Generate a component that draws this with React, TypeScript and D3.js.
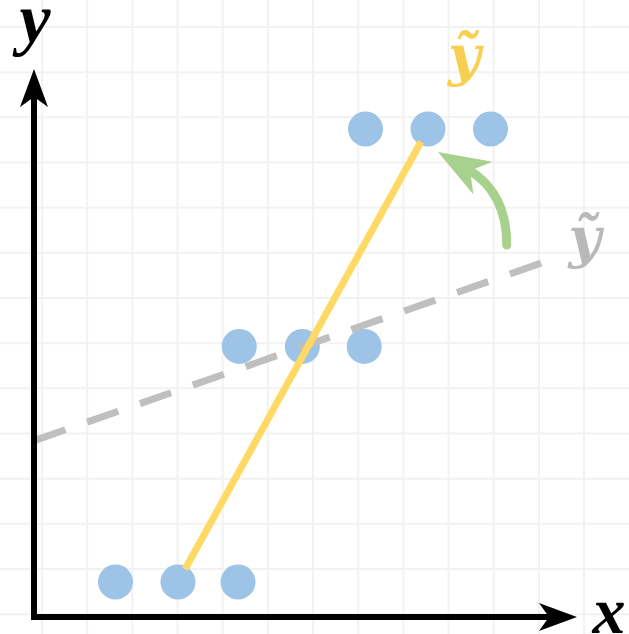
import React from "react";
import * as d3 from "d3";

// Observations: three rows of three points each
const pointX = [1, 2, 2.96, 2.98, 3.99, 4.98, 5, 6, 7];
const pointY = [0, 0, 0, 5.2, 5.2, 5.2, 10, 10, 10];

// Steep line through the centres of the row groups
const steepX = [2, 6];
const steepY = [0, 10];

// Shallow (dashed) fit
const shallowX = [-0.3, 7.87];
const shallowY = [3.12, 7.07];

// Curved arrow: start, control, tip
const arcX = [7.26, 7.26, 6.16];
const arcY = [7.44, 8.61, 9.49];

// Label anchors
const steepLabel = { x: 6.58, y: 11.19, text: "ỹ" };
const shallowLabel = { x: 8.51, y: 7.17, text: "ỹ" };

const W = 629;
const H = 634;
const R = 17.5;

const BLUE = "#9dc3e6";
const YELLOW = "#ffd966";
const GRAY = "#bfbfbf";
const GREEN = "#a9d18e";

export default function App() {
  const x = d3.scaleLinear().domain([0, 8]).range([53, 553]);
  const y = d3.scaleLinear().domain([0, 10]).range([582, 129]);

  // background grid
  const gx = d3.scaleLinear().domain([0, 1]).range([42, 87.17]);
  const gy = d3.scaleLinear().domain([0, 1]).range([27, 72.17]);
  const vLines = d3.range(-1, 14).map((k) => gx(k)).filter((v) => v > 0 && v < W);
  const hLines = d3.range(-1, 14).map((k) => gy(k)).filter((v) => v > 0 && v < H);

  // axes frame
  const ox = 34;
  const oy = 617;
  const yTip = 69;
  const xTip = 577;
  const headLen = 38;
  const headHalf = 14;
  const notch = 28;

  // steep segment trimmed to the circle edges
  const sx0 = x(steepX[0]), sy0 = y(steepY[0]);
  const sx1 = x(steepX[1]), sy1 = y(steepY[1]);
  const sl = Math.hypot(sx1 - sx0, sy1 - sy0);
  const ux = (sx1 - sx0) / sl, uy = (sy1 - sy0) / sl;
  const steepPath = d3.line()([
    [sx0 + ux * (R - 3), sy0 + uy * (R - 3)],
    [sx1 - ux * (R - 3), sy1 - uy * (R - 3)],
  ]);

  const shallowPath = d3.line()(shallowX.map((v, i) => [x(v), y(shallowY[i])] as [number, number]));

  // curved arrow
  const p0: [number, number] = [x(arcX[0]), y(arcY[0])];
  const pc: [number, number] = [x(arcX[1]), y(arcY[1])];
  const tip: [number, number] = [x(arcX[2]), y(arcY[2])];
  const dl = Math.hypot(tip[0] - pc[0], tip[1] - pc[1]);
  const dx = (tip[0] - pc[0]) / dl, dy = (tip[1] - pc[1]) / dl;
  const nx = -dy, ny = dx;
  const aLen = 52, aHalf = 19, aNotch = 37;
  const shaftEnd: [number, number] = [tip[0] - dx * (aNotch - 3), tip[1] - dy * (aNotch - 3)];
  const arc = d3.path();
  arc.moveTo(p0[0], p0[1]);
  arc.quadraticCurveTo(pc[0], pc[1], shaftEnd[0], shaftEnd[1]);
  const head = [
    [tip[0], tip[1]],
    [tip[0] - dx * aLen + nx * aHalf, tip[1] - dy * aLen + ny * aHalf],
    [tip[0] - dx * aNotch, tip[1] - dy * aNotch],
    [tip[0] - dx * aLen - nx * aHalf, tip[1] - dy * aLen - ny * aHalf],
  ]
    .map((p) => p.join(","))
    .join(" ");

  const serif = "'Liberation Serif', 'DejaVu Serif', serif";
  const accentSerif = "'DejaVu Serif', 'Liberation Serif', serif";

  return (
    <svg
      width={W}
      height={H}
      style={{ position: "absolute", left: 0, top: 0, background: "#fff" }}
    >
      <g stroke="#f2f2f2" strokeWidth={2}>
        {vLines.map((v) => (
          <line key={"v" + v} x1={v} x2={v} y1={0} y2={H} />
        ))}
        {hLines.map((v) => (
          <line key={"h" + v} x1={0} x2={W} y1={v} y2={v} />
        ))}
      </g>

      {pointX.map((v, i) => (
        <circle key={i} cx={x(v)} cy={y(pointY[i])} r={R} fill={BLUE} />
      ))}

      <path
        d={shallowPath ?? ""}
        fill="none"
        stroke={GRAY}
        strokeWidth={7}
        strokeDasharray="33 23"
      />

      <path d={steepPath ?? ""} fill="none" stroke={YELLOW} strokeWidth={7} />

      <path
        d={arc.toString()}
        fill="none"
        stroke={GREEN}
        strokeWidth={9}
        strokeLinecap="round"
      />
      <polygon points={head} fill={GREEN} />

      {/* axes */}
      <path
        d={`M${ox},${yTip + notch} L${ox},${oy} L${xTip - notch},${oy}`}
        fill="none"
        stroke="#000"
        strokeWidth={6}
        strokeLinejoin="miter"
      />
      <polygon
        points={`${ox},${yTip} ${ox - headHalf},${yTip + headLen} ${ox},${yTip + notch} ${ox + headHalf},${yTip + headLen}`}
        fill="#000"
      />
      <polygon
        points={`${xTip},${oy} ${xTip - headLen},${oy - headHalf} ${xTip - notch},${oy} ${xTip - headLen},${oy + headHalf}`}
        fill="#000"
      />

      <text
        x={35}
        y={42}
        textAnchor="middle"
        fontFamily={serif}
        fontStyle="italic"
        fontWeight="bold"
        fontSize={70}
        fill="#000"
      >
        y
      </text>
      <text
        x={609}
        y={633}
        textAnchor="middle"
        fontFamily={serif}
        fontStyle="italic"
        fontWeight="bold"
        fontSize={66}
        fill="#000"
      >
        x
      </text>

      <text
        x={x(steepLabel.x)}
        y={y(steepLabel.y)}
        textAnchor="middle"
        fontFamily={accentSerif}
        fontStyle="italic"
        fontWeight="bold"
        fontSize={56}
        fill="#f9cf4f"
      >
        {steepLabel.text}
      </text>
      <text
        x={x(shallowLabel.x)}
        y={y(shallowLabel.y)}
        textAnchor="middle"
        fontFamily={accentSerif}
        fontStyle="italic"
        fontWeight="bold"
        fontSize={56}
        fill="#b9b9b9"
      >
        {shallowLabel.text}
      </text>
    </svg>
  );
}
